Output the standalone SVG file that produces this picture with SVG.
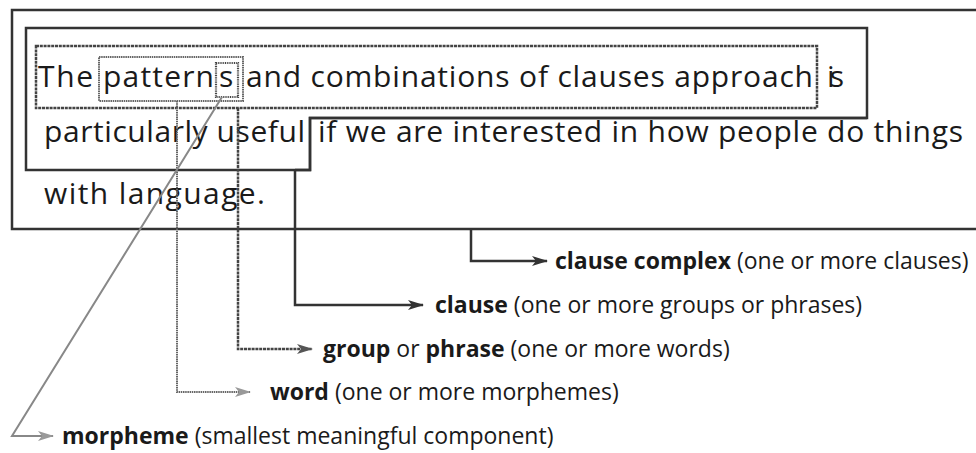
<svg xmlns="http://www.w3.org/2000/svg" width="976" height="453" viewBox="0 0 976 453">
<defs>
<style>
.main{font-family:"Open Sans","Noto Sans",sans-serif;font-size:30px;fill:#1a1a1a}
.lab{font-family:"Open Sans","Noto Sans",sans-serif;font-size:23px;fill:#1a1a1a}
.b{font-weight:bold}
.solid{fill:none;stroke:#333;stroke-width:2.5}
.grp{fill:none;stroke:#444;stroke-width:2.5;stroke-dasharray:3 0.8}
.wrd{fill:none;stroke:#666;stroke-width:2;stroke-dasharray:1.5 0.7}
.mor{fill:none;stroke:#444;stroke-width:2.2;stroke-dasharray:1 0.8}
.diag{fill:none;stroke:#888;stroke-width:2}
</style>
<marker id="ah" viewBox="0 0 16 10" refX="15" refY="5" markerWidth="16" markerHeight="10" markerUnits="userSpaceOnUse" orient="auto"><path d="M0,0 L16,5 L0,10 L4,5 Z" fill="#333"/></marker>
<marker id="ahg" viewBox="0 0 16 10" refX="15" refY="5" markerWidth="16" markerHeight="10" markerUnits="userSpaceOnUse" orient="auto"><path d="M0,0 L16,5 L0,10 L4,5 Z" fill="#555"/></marker>
<marker id="ahl" viewBox="0 0 16 10" refX="15" refY="5" markerWidth="16" markerHeight="10" markerUnits="userSpaceOnUse" orient="auto"><path d="M0,0 L16,5 L0,10 L4,5 Z" fill="#999"/></marker>
</defs>
<rect width="976" height="453" fill="#fff"/>

<g id="clause-complex">
<path class="solid" d="M990,10 H12 V229 H990"/>
</g>
<g id="clause-1">
<path class="solid" d="M26,28 H867 V118 H310 V170 H26 Z"/>
</g>
<g id="clause-2">
<path class="solid" d="M867,118 H310 V170 H295"/>
</g>
<g id="group">
<rect class="grp" x="36" y="46" width="781" height="62"/>
</g>
<g id="word">
<rect class="wrd" x="99" y="57" width="144" height="44"/>
</g>
<g id="morpheme">
<rect class="mor" x="216" y="63" width="22" height="34"/>
</g>

<g id="text">
<text class="main" x="38" y="87" textLength="55">The</text>
<text class="main" x="103" y="87" textLength="111">pattern</text>
<text class="main" x="219" y="87" textLength="16">s</text>
<text class="main" x="246" y="87" textLength="567">and combinations of clauses approach</text>
<text class="main" x="827" y="87" textLength="17">is</text>
<text class="main" x="44" y="142" textLength="261">particularly useful</text>
<text class="main" x="318" y="142" textLength="645">if we are interested in how people do things</text>
<text class="main" x="44" y="204" textLength="221">with language.</text>
</g>

<g id="connectors">
<path class="solid" d="M471,229 V261 H547" marker-end="url(#ah)"/>
<path class="solid" d="M295,170 V305 H423" marker-end="url(#ah)"/>
<path class="grp" d="M238,108 V349 H312" marker-end="url(#ahg)"/>
<path class="wrd" d="M177,101 V392 H250" marker-end="url(#ahl)"/>
<path class="diag" d="M222,97 L12,436 H53" marker-end="url(#ahl)"/>
</g>

<g id="labels">
<text class="lab" x="555" y="269"><tspan class="b">clause complex</tspan> (one or more clauses)</text>
<text class="lab" x="435" y="313"><tspan class="b">clause</tspan> (one or more groups or phrases)</text>
<text class="lab" x="323" y="357"><tspan class="b">group</tspan> or <tspan class="b">phrase</tspan> (one or more words)</text>
<text class="lab" x="270" y="400"><tspan class="b">word</tspan> (one or more morphemes)</text>
<text class="lab" x="62" y="444"><tspan class="b">morpheme</tspan> (smallest meaningful component)</text>
</g>
</svg>
